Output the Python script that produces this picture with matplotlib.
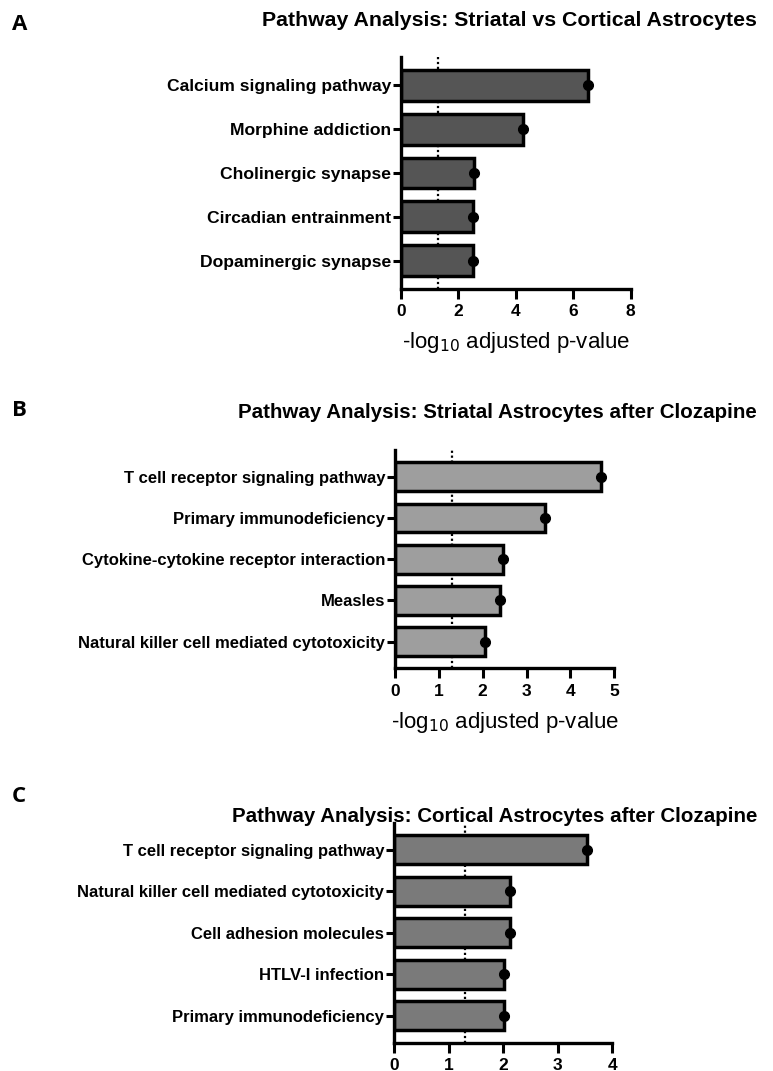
import numpy as np
import matplotlib
matplotlib.use('Agg')
import matplotlib.pyplot as plt

plt.rcParams['font.family'] = ['Liberation Sans', 'DejaVu Sans']

# pathway enrichment, -log10 adjusted p-values
pathways_a = ['Calcium signaling pathway', 'Morphine addiction', 'Cholinergic synapse',
              'Circadian entrainment', 'Dopaminergic synapse']
values_a = [6.5, 4.25, 2.55, 2.52, 2.52]

pathways_b = ['T cell receptor signaling pathway', 'Primary immunodeficiency',
              'Cytokine-cytokine receptor interaction', 'Measles',
              'Natural killer cell mediated cytotoxicity']
values_b = [4.7, 3.41, 2.46, 2.4, 2.05]

pathways_c = ['T cell receptor signaling pathway', 'Natural killer cell mediated cytotoxicity',
              'Cell adhesion molecules', 'HTLV-I infection', 'Primary immunodeficiency']
values_c = [3.54, 2.13, 2.13, 2.02, 2.02]

titles = ['Pathway Analysis: Striatal vs Cortical Astrocytes',
          'Pathway Analysis: Striatal Astrocytes after Clozapine',
          'Pathway Analysis: Cortical Astrocytes after Clozapine']
panel_letters = ['A', 'B', 'C']
xmax = [8, 5, 4]
cutoff = -np.log10(0.05)

fig = plt.figure(figsize=(7.73, 10.71), dpi=100)

W, H = 773.0, 1071.0
# axes boxes in pixels: left, right, top, bottom
boxes = [(400.7, 630.7, 57, 289), (395, 614.3, 450, 668.3), (394, 612.3, 822.7, 1042.7)]
bar_colors = ['#555555', '#9e9e9e', '#7a7a7a']
label_size = [12.6, 12.0, 12.0]
title_size = [15.3, 14.8, 14.8]
title_y = [20, 413, 817]
letter_y = [24, 411, 796]

panels = [(pathways_a, values_a), (pathways_b, values_b), (pathways_c, values_c)]

for i, (names, vals) in enumerate(panels):
    l, r, t, b = boxes[i]
    ax = fig.add_axes([l / W, 1 - b / H, (r - l) / W, (b - t) / H])
    y = np.arange(len(names))
    ax.barh(y, vals, height=0.7, color=bar_colors[i], edgecolor='black', linewidth=2.5, zorder=2)
    ax.plot(vals, y, 'o', color='black', markersize=7, zorder=3, clip_on=False)
    ax.axvline(cutoff, color='black', linestyle=(0, (1, 1.2)), linewidth=1.6, zorder=1)

    ax.set_ylim(len(names) - 0.35, -0.65)
    ax.set_xlim(0, xmax[i])
    ax.set_yticks(y)
    ax.set_yticklabels(names, fontsize=label_size[i], fontweight='bold')
    ax.set_xticks(range(0, xmax[i] + 1, 2 if xmax[i] == 8 else 1))
    ax.tick_params(axis='x', labelsize=12.5, width=2.2, length=7, pad=4)
    ax.tick_params(axis='y', width=2.2, length=6, pad=1)
    for lab in ax.get_xticklabels():
        lab.set_fontweight('bold')
    for s in ['top', 'right']:
        ax.spines[s].set_visible(False)
    for s in ['left', 'bottom']:
        ax.spines[s].set_linewidth(2.4)

    if i < 2:
        ax.set_xlabel('-log$_{10}$ adjusted p-value', fontsize=16, labelpad=8)

    fig.text(757 / W, 1 - title_y[i] / H, titles[i], ha='right', va='center',
             fontsize=title_size[i], fontweight='bold')
    fig.text(12 / W, 1 - letter_y[i] / H, panel_letters[i], ha='left', va='center',
             fontsize=16, fontweight='bold', family=['Open Sans', 'DejaVu Sans'])

fig.savefig('out.png', dpi=100)
